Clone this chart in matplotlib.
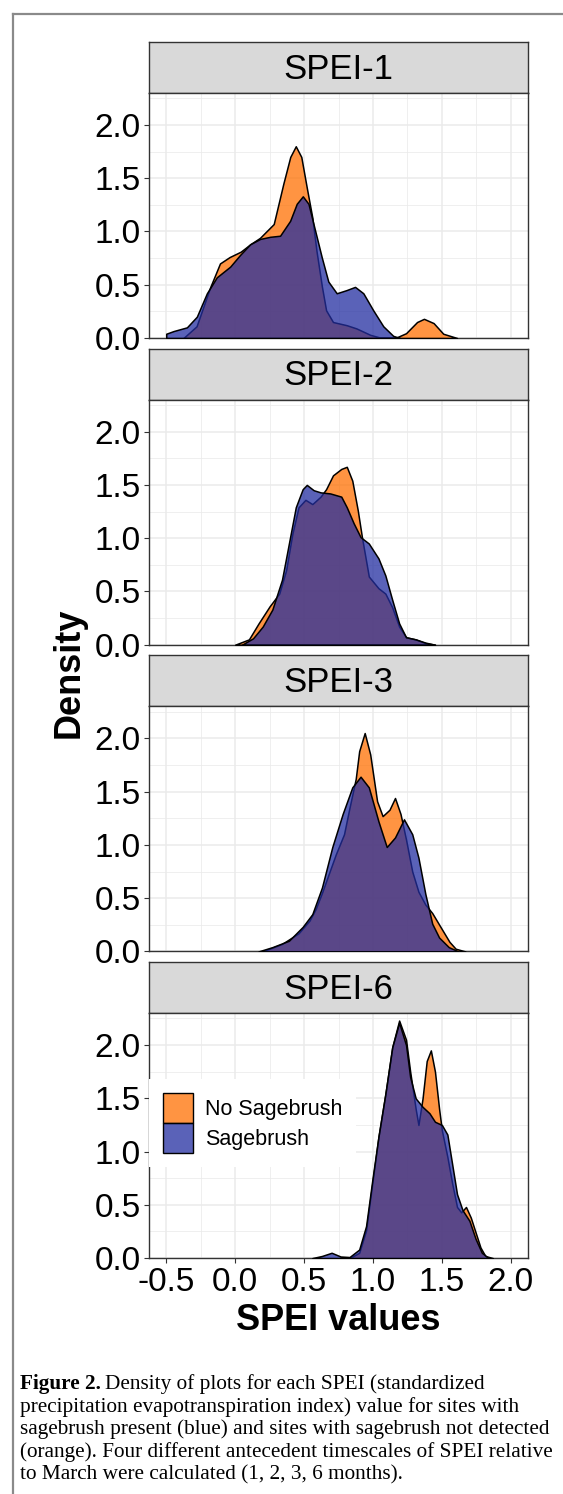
import numpy as np
import matplotlib.pyplot as plt
from matplotlib.lines import Line2D
from matplotlib.patches import Patch
from matplotlib.ticker import MultipleLocator
from matplotlib.colors import to_rgba

# density curves (x = SPEI value, y = density)
panels = ["SPEI-1", "SPEI-2", "SPEI-3", "SPEI-6"]
groups = ["No Sagebrush", "Sagebrush"]

no_sage_x = [
    [-0.375, -0.28, -0.18, -0.11, -0.04, 0.04, 0.11, 0.18, 0.28, 0.35, 0.40, 0.44, 0.48, 0.52,
     0.56, 0.59, 0.63, 0.66, 0.71, 0.81, 0.88, 0.98, 1.05, 1.17, 1.24, 1.32, 1.37, 1.44, 1.51, 1.61],
    [0.0, 0.10, 0.17, 0.25, 0.32, 0.37, 0.415, 0.46, 0.51, 0.56, 0.62, 0.66, 0.71, 0.77, 0.81,
     0.85, 0.89, 0.92, 0.97, 1.04, 1.09, 1.14, 1.19, 1.24, 1.31, 1.38, 1.45],
    [0.20, 0.34, 0.46, 0.54, 0.585, 0.63, 0.68, 0.73, 0.79, 0.83, 0.875, 0.90, 0.94, 0.98, 1.03,
     1.07, 1.12, 1.16, 1.20, 1.24, 1.285, 1.33, 1.38, 1.43, 1.49, 1.555, 1.60, 1.67],
    [0.83, 0.90, 0.95, 0.995, 1.04, 1.09, 1.14, 1.19, 1.24, 1.27, 1.31, 1.33, 1.36, 1.39, 1.42,
     1.45, 1.48, 1.50, 1.54, 1.575, 1.61, 1.64, 1.675, 1.71, 1.745, 1.78, 1.815, 1.87],
]
no_sage_y = [
    [0.0, 0.11, 0.48, 0.70, 0.76, 0.81, 0.88, 0.94, 1.07, 1.45, 1.70, 1.80, 1.70, 1.41,
     1.13, 0.82, 0.48, 0.26, 0.15, 0.12, 0.09, 0.03, 0.005, 0.005, 0.045, 0.15, 0.18, 0.14, 0.04, 0.0],
    [0.0, 0.05, 0.20, 0.36, 0.48, 0.70, 1.04, 1.29, 1.36, 1.32, 1.39, 1.46, 1.59, 1.65, 1.67,
     1.54, 1.26, 1.01, 0.64, 0.53, 0.48, 0.35, 0.17, 0.07, 0.05, 0.015, 0.0],
    [0.0, 0.07, 0.17, 0.29, 0.40, 0.55, 0.73, 0.91, 1.10, 1.35, 1.62, 1.88, 2.05, 1.85, 1.41,
     1.27, 1.33, 1.44, 1.29, 1.05, 0.75, 0.56, 0.44, 0.36, 0.23, 0.09, 0.025, 0.0],
    [0.0, 0.05, 0.26, 0.70, 1.14, 1.54, 1.98, 2.23, 2.05, 1.75, 1.40, 1.25, 1.50, 1.85, 1.95,
     1.75, 1.40, 1.20, 0.95, 0.70, 0.48, 0.43, 0.48, 0.38, 0.24, 0.10, 0.02, 0.0],
]
sage_x = [
    [-0.50, -0.447, -0.35, -0.278, -0.205, -0.133, -0.036, 0.036, 0.109, 0.181, 0.254, 0.326,
     0.399, 0.447, 0.491, 0.532, 0.58, 0.628, 0.676, 0.737, 0.809, 0.87, 0.93, 1.002, 1.075,
     1.147, 1.196],
    [0.05, 0.13, 0.20, 0.27, 0.34, 0.39, 0.44, 0.49, 0.52, 0.57, 0.62, 0.69, 0.77, 0.81, 0.86,
     0.91, 0.97, 1.04, 1.09, 1.14, 1.19, 1.24, 1.31, 1.38, 1.45],
    [0.17, 0.27, 0.39, 0.49, 0.56, 0.63, 0.705, 0.78, 0.85, 0.91, 0.97, 1.04, 1.10, 1.16, 1.225,
     1.285, 1.33, 1.38, 1.43, 1.48, 1.55, 1.62],
    [0.56, 0.63, 0.70, 0.765, 0.83, 0.90, 0.95, 0.995, 1.04, 1.09, 1.14, 1.19, 1.24, 1.27, 1.31,
     1.36, 1.41, 1.45, 1.50, 1.54, 1.575, 1.61, 1.65, 1.70, 1.745, 1.79, 1.84],
]
sage_y = [
    [0.04, 0.065, 0.10, 0.20, 0.42, 0.57, 0.67, 0.78, 0.88, 0.93, 0.95, 0.96, 1.10, 1.26, 1.33,
     1.26, 1.01, 0.76, 0.53, 0.42, 0.45, 0.48, 0.42, 0.26, 0.11, 0.02, 0.0],
    [0.0, 0.06, 0.17, 0.33, 0.61, 0.95, 1.29, 1.46, 1.50, 1.45, 1.43, 1.42, 1.39, 1.29, 1.14,
     1.01, 0.95, 0.81, 0.65, 0.42, 0.20, 0.07, 0.05, 0.02, 0.0],
    [0.0, 0.04, 0.10, 0.23, 0.35, 0.60, 0.98, 1.29, 1.54, 1.64, 1.54, 1.22, 0.98, 1.07, 1.24,
     1.10, 0.88, 0.54, 0.26, 0.13, 0.04, 0.0],
    [0.0, 0.02, 0.05, 0.015, 0.01, 0.08, 0.30, 0.73, 1.14, 1.54, 1.98, 2.21, 2.00, 1.70, 1.50,
     1.42, 1.36, 1.28, 1.25, 1.16, 0.88, 0.60, 0.45, 0.35, 0.18, 0.05, 0.0],
]

caption_lines = [
    "Density of plots for each SPEI (standardized",
    "precipitation evapotranspiration index) value for sites with",
    "sagebrush present (blue) and sites with sagebrush not detected",
    "(orange). Four different antecedent timescales of SPEI relative",
    "to March were calculated (1, 2, 3, 6 months).",
]

orange = "#FF7003"
blue = "#232EA0"
alpha = 0.75

plt.rcParams['font.family'] = ['Liberation Sans', 'DejaVu Sans']

W, H = 563, 1494
fig = plt.figure(figsize=(W / 100, H / 100), dpi=100)


def fx(px):
    return px / W


def fy(py):
    return 1 - py / H


# outer frame of the figure box
fig.add_artist(Line2D([fx(13), fx(13)], [fy(14), 0], color="#8a8a8a", lw=1.6))
fig.add_artist(Line2D([fx(13), 1], [fy(14), fy(14)], color="#8a8a8a", lw=1.6))

left, right = 149, 528
step = 306.7
axes = []
for i, name in enumerate(panels):
    strip_top = 42 + step * i
    strip_bot = strip_top + 51
    plot_bot = strip_bot + 245

    sax = fig.add_axes([fx(left), fy(strip_bot), fx(right - left), (strip_bot - strip_top) / H])
    sax.set_facecolor("#D9D9D9")
    sax.set_xticks([])
    sax.set_yticks([])
    for s in sax.spines.values():
        s.set_color("#333333")
        s.set_linewidth(1.0)
    sax.text(0.5, 0.47, name, ha="center", va="center", fontsize=25, transform=sax.transAxes)

    ax = fig.add_axes([fx(left), fy(plot_bot), fx(right - left), 245 / H])
    ax.set_xlim(-0.625, 2.125)
    ax.set_ylim(0, 2.3)
    ax.xaxis.set_major_locator(MultipleLocator(0.5))
    ax.xaxis.set_minor_locator(MultipleLocator(0.25))
    ax.yaxis.set_major_locator(MultipleLocator(0.5))
    ax.yaxis.set_minor_locator(MultipleLocator(0.25))
    ax.grid(which="major", color="#EBEBEB", lw=1.1)
    ax.grid(which="minor", color="#EBEBEB", lw=0.55)
    ax.set_axisbelow(True)
    for s in ax.spines.values():
        s.set_color("#333333")
        s.set_linewidth(1.0)
    ax.tick_params(which="major", length=3.6, width=0.8, color="#333333", labelsize=24, pad=2.5)
    ax.tick_params(which="minor", length=0)
    ax.yaxis.set_major_formatter(plt.FuncFormatter(lambda v, p: f"{v:.1f}"))
    if i < len(panels) - 1:
        ax.tick_params(axis="x", which="both", length=0, labelbottom=False)
    else:
        ax.xaxis.set_major_formatter(plt.FuncFormatter(lambda v, p: f"{v:.1f}"))

    ax.fill_between(no_sage_x[i], no_sage_y[i], 0, facecolor=to_rgba(orange, alpha),
                    edgecolor="black", lw=1.1, zorder=3)
    ax.fill_between(sage_x[i], sage_y[i], 0, facecolor=to_rgba(blue, alpha),
                    edgecolor="black", lw=1.1, zorder=4)
    axes.append(ax)

handles = [Patch(facecolor=to_rgba(orange, alpha), edgecolor="black", lw=1.0),
           Patch(facecolor=to_rgba(blue, alpha), edgecolor="black", lw=1.0)]
leg = axes[-1].legend(handles, groups, loc="center left", bbox_to_anchor=(0.0, 0.551),
                      borderaxespad=0, fontsize=15.5, frameon=True, fancybox=False,
                      facecolor="white", edgecolor="none", framealpha=1,
                      handlelength=1.4, handleheight=1.75, labelspacing=0.0,
                      handletextpad=0.55, borderpad=0.65)
leg.set_zorder(10)

fig.text(fx(69), fy(673), "Density", rotation=90, ha="center", va="center",
         fontsize=26, fontweight="bold")
fig.text(fx(338), fy(1320), "SPEI values", ha="center", va="center",
         fontsize=26, fontweight="bold")

# caption under the chart
cap_font = ['Liberation Serif', 'DejaVu Serif']
cap_size = 15.3
line_y = [1384, 1407, 1429, 1452, 1475]
renderer = fig.canvas.get_renderer()
bold = fig.text(fx(20), fy(line_y[0]), "Figure 2.", ha="left", va="center",
                fontsize=cap_size, fontweight="bold", family=cap_font)
bb = bold.get_window_extent(renderer)
fig.text(fx(bb.x1 + 4), fy(line_y[0]), caption_lines[0], ha="left", va="center",
         fontsize=cap_size, family=cap_font)
for t, yy in zip(caption_lines[1:], line_y[1:]):
    fig.text(fx(20), fy(yy), t, ha="left", va="center", fontsize=cap_size, family=cap_font)

fig.savefig("out.png", dpi=100)
